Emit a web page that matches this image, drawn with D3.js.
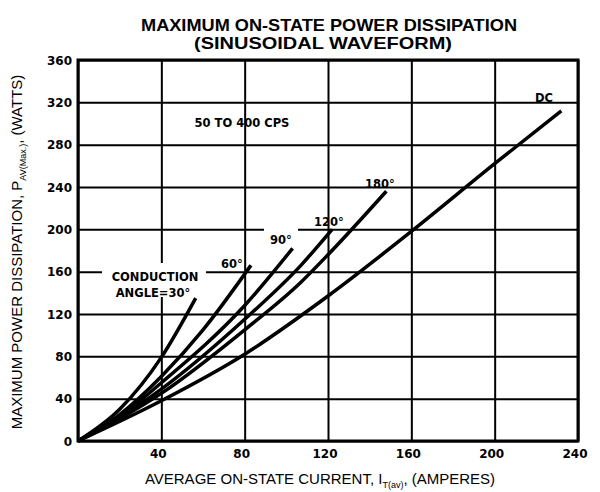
<!DOCTYPE html>
<head>
    <meta charset="utf-8">
    <script src="https://d3js.org/d3.v7.min.js"></script>
    <style>
        body { margin: 0; background: #fff; }
        text { fill: #000; }
    </style>
</head>
<body>
<script>
    // tick values
    var xTicks = [0, 40, 80, 120, 160, 200, 240],
        yTicks = [0, 40, 80, 120, 160, 200, 240, 280, 320, 360];

    // curves, [current A, power W]
    var dcPts = [[0, 0], [40, 38], [80, 82], [120, 137], [160, 198], [200, 262], [232, 312]],
        deg180 = [[0, 0], [20, 21], [40, 45], [80, 105], [107, 150], [120, 176], [148, 236]],
        deg120 = [[0, 0], [20, 22], [40, 49], [80, 115], [107, 166], [122, 200]],
        deg90 = [[0, 0], [20, 23], [40, 55], [80, 128], [103, 182]],
        deg60 = [[0, 0], [20, 25], [40, 61], [60, 105], [83, 166]],
        deg30 = [[0, 0], [20, 30], [40, 79], [56.5, 135]];

    var curves = [dcPts, deg180, deg120, deg90, deg60, deg30];

    var width = 600,
        height = 492;

    var svg = d3.select("body").append("svg")
        .attr("width", width)
        .attr("height", height)
        .style("font-family", "'DejaVu Sans', sans-serif");

    var x = d3.scaleLinear().domain([0, 240]).range([78, 578]),
        y = d3.scaleLinear().domain([0, 360]).range([441, 60]);

    // grid
    svg.append("g")
        .attr("transform", "translate(0," + y(0) + ")")
        .call(d3.axisBottom(x).tickValues(xTicks).tickSizeInner(-(y(0) - y(360))).tickSizeOuter(0).tickFormat(""))
        .call(function (g) { g.select(".domain").remove(); })
        .selectAll("line").attr("stroke", "#000").attr("stroke-width", 2);

    svg.append("g")
        .attr("transform", "translate(" + x(0) + ",0)")
        .call(d3.axisLeft(y).tickValues(yTicks).tickSizeInner(-(x(240) - x(0))).tickSizeOuter(0).tickFormat(""))
        .call(function (g) { g.select(".domain").remove(); })
        .selectAll("line").attr("stroke", "#000").attr("stroke-width", 2);

    svg.append("rect")
        .attr("x", x(0)).attr("y", y(360))
        .attr("width", x(240) - x(0)).attr("height", y(0) - y(360))
        .attr("fill", "none").attr("stroke", "#000").attr("stroke-width", 3);

    // tick labels
    svg.selectAll(".ylab").data(yTicks).enter().append("text")
        .attr("class", "ylab")
        .attr("x", 72).attr("y", function (d) { return y(d) + 4.5; })
        .attr("text-anchor", "end")
        .style("font-size", "12px").style("font-weight", "bold")
        .text(function (d) { return d; });

    svg.selectAll(".xlab").data(xTicks.slice(1)).enter().append("text")
        .attr("class", "xlab")
        .attr("x", function (d) { return x(d) - 3; }).attr("y", 458)
        .attr("text-anchor", "middle")
        .style("font-size", "12px").style("font-weight", "bold")
        .text(function (d) { return d; });

    // white patches where labels cut the grid
    svg.append("rect").attr("x", 102).attr("y", 263).attr("width", 104).attr("height", 34).attr("fill", "#fff");
    svg.append("rect").attr("x", 264).attr("y", 228).attr("width", 34).attr("height", 16).attr("fill", "#fff");

    var line = d3.line()
        .x(function (d) { return x(d[0]); })
        .y(function (d) { return y(d[1]); })
        .curve(d3.curveMonotoneX);

    svg.selectAll(".curve").data(curves).enter().append("path")
        .attr("class", "curve")
        .attr("d", line)
        .attr("fill", "none").attr("stroke", "#000").attr("stroke-width", 3.5);

    // curve labels
    var labels = [
        ["DC", 544, 102],
        ["180°", 380, 188],
        ["120°", 329, 226],
        ["90°", 281, 244],
        ["60°", 232, 268],
        ["CONDUCTION", 155, 281],
        ["ANGLE=30°", 153, 297],
        ["50 TO 400 CPS", 242, 127]
    ];
    svg.selectAll(".clab").data(labels).enter().append("text")
        .attr("class", "clab")
        .attr("x", function (d) { return d[1]; })
        .attr("y", function (d) { return d[2]; })
        .attr("text-anchor", "middle")
        .style("font-size", "11.5px").style("font-weight", "bold")
        .text(function (d) { return d[0]; });

    // titles
    var title = svg.append("g").style("font-family", "'Liberation Sans', Arial, sans-serif").style("font-weight", "bold");
    title.append("text").attr("x", 329).attr("y", 31).attr("text-anchor", "middle")
        .attr("textLength", 376).attr("lengthAdjust", "spacingAndGlyphs")
        .style("font-size", "16.5px").text("MAXIMUM ON-STATE POWER DISSIPATION");
    title.append("text").attr("x", 323).attr("y", 49).attr("text-anchor", "middle")
        .attr("textLength", 258).attr("lengthAdjust", "spacingAndGlyphs")
        .style("font-size", "16.5px").text("(SINUSOIDAL WAVEFORM)");

    var xt = svg.append("text")
        .attr("x", 320).attr("y", 484).attr("text-anchor", "middle")
        .style("font-family", "'Liberation Sans', Arial, sans-serif").style("font-size", "15px");
    xt.append("tspan").text("AVERAGE ON-STATE CURRENT, I");
    xt.append("tspan").attr("dy", 4).style("font-size", "9px").text("T(av)");
    xt.append("tspan").attr("dy", -4).text(", (AMPERES)");

    var yt = svg.append("text")
        .attr("transform", "translate(22,252) rotate(-90)")
        .attr("text-anchor", "middle")
        .style("font-family", "'Liberation Sans', Arial, sans-serif").style("font-size", "15px");
    yt.append("tspan").text("MAXIMUM POWER DISSIPATION, P");
    yt.append("tspan").attr("dy", 4).style("font-size", "9px").text("AV(Max.)");
    yt.append("tspan").attr("dy", -4).text(", (WATTS)");
</script>
</body>
</html>
